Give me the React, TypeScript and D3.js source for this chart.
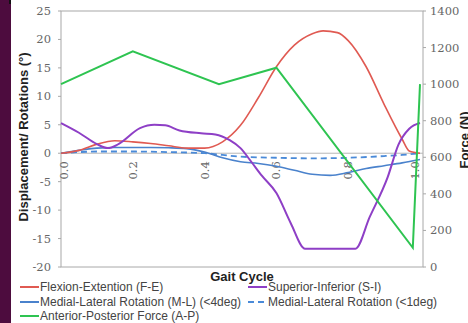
import React from "react";
import * as d3 from "d3";

// ---- Data ----
const feX = [0, 0.05, 0.1, 0.15, 0.2, 0.25, 0.3, 0.35, 0.4, 0.45, 0.5, 0.55, 0.6, 0.65, 0.7, 0.73, 0.77, 0.8, 0.85, 0.9, 0.95, 0.97, 1.0];
const feY = [0, 0.5, 1.6, 2.2, 2.0, 1.7, 1.3, 0.9, 0.9, 2.0, 4.9, 9.8, 15.2, 19.0, 21.0, 21.5, 21.2, 19.8, 15.2, 8.6, 2.5, 0.4, 0];

const siX = [0, 0.05, 0.1, 0.13, 0.16, 0.22, 0.26, 0.29, 0.33, 0.39, 0.43, 0.47, 0.5, 0.53, 0.56, 0.6, 0.64, 0.68, 0.82, 0.86, 0.91, 0.94, 0.97, 1.0];
const siY = [5.3, 3.6, 1.6, 0.9, 1.6, 4.4, 5.0, 4.9, 4.0, 3.5, 3.3, 2.3, 0.9, -1.5, -4.0, -7.0, -12.3, -16.8, -16.8, -11.2, -4.2, 1.5, 4.3, 5.3];

const ml4X = [0, 0.05, 0.1, 0.15, 0.2, 0.25, 0.3, 0.35, 0.4, 0.45, 0.5, 0.55, 0.6, 0.65, 0.7, 0.75, 0.8, 0.85, 0.9, 0.95, 1.0];
const ml4Y = [0, 0.5, 0.9, 1.0, 1.0, 1.0, 0.95, 0.8, 0.2, -0.8, -1.5, -1.8, -2.3, -3.0, -3.7, -3.9, -3.4, -2.7, -2.2, -1.7, -1.1];

const ml1X = [0, 0.05, 0.1, 0.2, 0.3, 0.4, 0.45, 0.5, 0.6, 0.7, 0.8, 0.9, 0.95, 1.0];
const ml1Y = [0, 0.2, 0.3, 0.3, 0.2, 0.0, -0.3, -0.6, -0.8, -0.9, -0.8, -0.5, -0.3, 0.0];

const apX = [0, 0.2, 0.44, 0.6, 0.98, 1.0];
const apF = [1000, 1180, 1000, 1090, 105, 1000];

const xTicks = [0, 0.2, 0.4, 0.6, 0.8, 1.0];
const yLeftTicks = [25, 20, 15, 10, 5, 0, -5, -10, -15, -20];
const yRightTicks = [0, 200, 400, 600, 800, 1000, 1200, 1400];

const legendItems = [
  { label: "Flexion-Extention (F-E)", color: "#e05a52", dash: "", col: 0, row: 0 },
  { label: "Superior-Inferior (S-I)", color: "#8e3fc6", dash: "", col: 1, row: 0 },
  { label: "Medial-Lateral Rotation (M-L) (<4deg)", color: "#4a82cc", dash: "", col: 0, row: 1 },
  { label: "Medial-Lateral Rotation (<1deg)", color: "#4a8ad8", dash: "6,4", col: 1, row: 1 },
  { label: "Anterior-Posterior Force (A-P)", color: "#2ec451", dash: "", col: 0, row: 2 },
];

export default function App() {
  const W = 468, H = 323;
  const left = 61, right = 423, top = 11, bottom = 267;
  const x = d3.scaleLinear().domain([0, 1]).range([left, 420]);
  const yL = d3.scaleLinear().domain([-20, 25]).range([bottom, top]);
  const yR = d3.scaleLinear().domain([0, 1400]).range([bottom, top]);

  const smooth = d3.line<[number, number]>().x(d => x(d[0])).y(d => yL(d[1])).curve(d3.curveMonotoneX);
  const zip = (a: number[], b: number[]) => a.map((v, i) => [v, b[i]] as [number, number]);
  const apLine = d3.line<[number, number]>().x(d => x(d[0])).y(d => yR(d[1]));

  const serif = "'DejaVu Serif', serif";
  const sans = "'Liberation Sans', Arial, sans-serif";

  const legendX = [20, 248];
  const legendY = [287, 302, 316];

  return (
    <svg width={W} height={H} style={{ position: "absolute", left: 0, top: 0, background: "#fff" }}>
      <rect x={0} y={0} width={W} height={H} fill="#fff" />
      <rect x={0} y={0} width={11} height={H} fill="#4d0c3e" />
      <line x1={10} y1={0} x2={10} y2={4} stroke="#111" strokeWidth={2} />

      {/* plot frame */}
      <rect x={left} y={top} width={right - left} height={bottom - top} fill="none" stroke="#a8a8a8" strokeWidth={1} />
      <line x1={left} x2={right} y1={yL(0)} y2={yL(0)} stroke="#b8b8b8" strokeWidth={1} />

      {/* left ticks */}
      {yLeftTicks.map(t => (
        <g key={"l" + t}>
          <line x1={left - 3} x2={left} y1={yL(t)} y2={yL(t)} stroke="#a8a8a8" />
          <text x={51} y={yL(t)} dy="0.35em" textAnchor="end" fontFamily={serif} fontSize={11.5} fill="#666">{t}</text>
        </g>
      ))}
      {/* right ticks */}
      {yRightTicks.map(t => (
        <g key={"r" + t}>
          <line x1={right} x2={right + 3} y1={yR(t)} y2={yR(t)} stroke="#a8a8a8" />
          <text x={430} y={yR(t)} dy="0.35em" textAnchor="start" fontFamily={serif} fontSize={11.5} fill="#666">{t}</text>
        </g>
      ))}
      {/* x tick labels */}
      {xTicks.map(t => {
        const px = Math.min(Math.max(x(t), left + 3), 415);
        return (
          <text key={"x" + t} transform={`translate(${px},${yL(0) + 8}) rotate(-90)`} textAnchor="end" dy="0.35em"
            fontFamily={serif} fontSize={11.5} fill="#666">{t.toFixed(1)}</text>
        );
      })}

      {/* series */}
      <path d={smooth(zip(ml1X, ml1Y)) || ""} fill="none" stroke="#4a8ad8" strokeWidth={1.8} strokeDasharray="6,4" />
      <path d={smooth(zip(ml4X, ml4Y)) || ""} fill="none" stroke="#4a82cc" strokeWidth={1.6} />
      <path d={smooth(zip(feX, feY)) || ""} fill="none" stroke="#e05a52" strokeWidth={1.6} />
      <path d={smooth(zip(siX, siY)) || ""} fill="none" stroke="#8e3fc6" strokeWidth={2} />
      <path d={apLine(zip(apX, apF)) || ""} fill="none" stroke="#2ec451" strokeWidth={2} />

      {/* axis titles */}
      <text transform={`translate(28,${137}) rotate(-90)`} textAnchor="middle" fontFamily={sans} fontWeight="bold" fontSize={13} fill="#222">Displacement/ Rotations (°)</text>
      <text transform={`translate(469,${140}) rotate(-90)`} textAnchor="middle" fontFamily={sans} fontWeight="bold" fontSize={13} fill="#222">Force (N)</text>
      <text x={242} y={281} textAnchor="middle" fontFamily={sans} fontWeight="bold" fontSize={13} fill="#222">Gait Cycle</text>

      {/* legend */}
      {legendItems.map(it => (
        <g key={it.label}>
          <line x1={legendX[it.col]} x2={legendX[it.col] + 19} y1={legendY[it.row]} y2={legendY[it.row]} stroke={it.color} strokeWidth={2} strokeDasharray={it.dash || undefined} />
          <text x={legendX[it.col] + 20} y={legendY[it.row]} dy="0.35em" fontFamily={sans} fontSize={12} fill="#444">{it.label}</text>
        </g>
      ))}
    </svg>
  );
}
